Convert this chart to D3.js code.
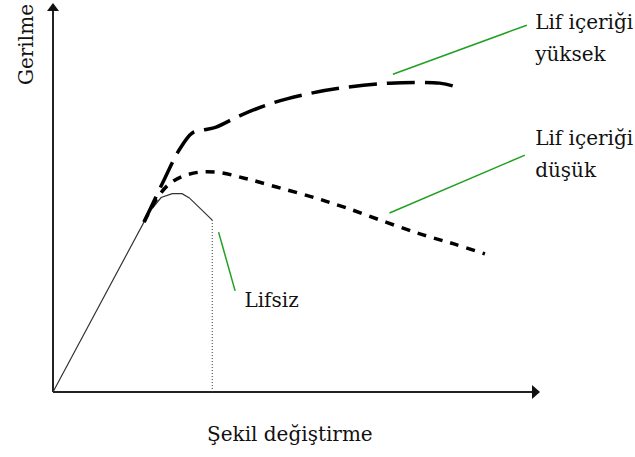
<!DOCTYPE html>
<html>
<head>
<meta charset="utf-8">
<script src="https://cdn.jsdelivr.net/npm/d3@7"></script>
<style>
  body { margin: 0; background: #fff; }
  text { font-family: "DejaVu Serif", serif; font-size: 20px; fill: #111; }
</style>
</head>
<body>
<div class="canvas"></div>
<script>
// boyutlar
const width = 635;
const height = 457;

// eğriler (keyfi birimler: şekil değiştirme 0-100, gerilme 0-100)
const lifsiz = [[0, 0], [19.8, 46.3], [22.2, 50.0], [24.5, 51.0], [26.5, 51.0], [28.0, 49.9], [32.7, 44.2]];
const kirilma = [[32.7, 44.2], [32.7, 0]];
const yuksek = [[18.7, 43.7], [22.8, 54.5], [25.9, 62.2], [28.6, 66.6], [31.1, 67.4], [33.5, 68.1],
                [38.3, 71.0], [45.1, 74.3], [53.3, 76.9], [58.8, 78.1], [69.1, 79.4], [79.4, 79.4], [82.1, 78.7]];
const dusuk = [[18.7, 43.7], [21.4, 49.9], [23.9, 53.5], [26.5, 55.4], [30.0, 56.5], [34.2, 56.4],
               [39.5, 54.9], [45.9, 52.7], [53.3, 50.1], [60.3, 47.3], [68.5, 43.6], [76.0, 40.4],
               [82.5, 38.0], [88.7, 35.5]];

// etiket çizgileri (yeşil)
const leaders = [
  [[69.8, 81.7], [97.3, 94.3]],
  [[69.1, 46.0], [96.9, 60.9]],
  [[34.0, 41.1], [37.4, 26.0]]
];

// etiketler
const labels = [
  { text: "Lif içeriği", x: 99.0, y: 93.3 },
  { text: "yüksek", x: 99.0, y: 85.1 },
  { text: "Lif içeriği", x: 99.0, y: 63.5 },
  { text: "düşük", x: 99.0, y: 55.3 },
  { text: "Lifsiz", x: 39.3, y: 21.8 }
];
const xLabel = "Şekil değiştirme";
const yLabel = "Gerilme";

const x = d3.scaleLinear().domain([0, 100]).range([53, 540]);
const y = d3.scaleLinear().domain([0, 100]).range([392, 3]);

const svg = d3.select(".canvas").append("svg")
  .attr("width", width)
  .attr("height", height);

// eksenler
svg.append("line")
  .attr("x1", x(0)).attr("y1", y(0))
  .attr("x2", x(0)).attr("y2", y(100) + 6)
  .attr("stroke", "#222").attr("stroke-width", 2);
svg.append("line")
  .attr("x1", x(0)).attr("y1", y(0))
  .attr("x2", x(100) - 6).attr("y2", y(0))
  .attr("stroke", "#222").attr("stroke-width", 2);

// ok uçları
svg.append("path")
  .attr("d", `M${x(0)},${y(100)} L${x(0) - 6},${y(100) + 8} L${x(0) + 6},${y(100) + 8} Z`)
  .attr("fill", "#111");
svg.append("path")
  .attr("d", `M${x(100)},${y(0)} L${x(100) - 8},${y(0) - 7} L${x(100) - 8},${y(0) + 7} Z`)
  .attr("fill", "#111");

const line = d3.line().x(d => x(d[0])).y(d => y(d[1]));
const smooth = d3.line().x(d => x(d[0])).y(d => y(d[1])).curve(d3.curveCatmullRom.alpha(0.5));

svg.append("path")
  .attr("d", line(lifsiz))
  .attr("fill", "none")
  .attr("stroke", "#333")
  .attr("stroke-width", 1.2);

svg.append("path")
  .attr("d", line(kirilma))
  .attr("fill", "none")
  .attr("stroke", "#333")
  .attr("stroke-width", 1)
  .attr("stroke-dasharray", "1,2");

svg.append("path")
  .attr("d", smooth(yuksek))
  .attr("fill", "none")
  .attr("stroke", "#000")
  .attr("stroke-width", 3.5)
  .attr("stroke-dasharray", "28,10");

svg.append("path")
  .attr("d", smooth(dusuk))
  .attr("fill", "none")
  .attr("stroke", "#000")
  .attr("stroke-width", 3.5)
  .attr("stroke-dasharray", "9,8");

svg.selectAll(".leader")
  .data(leaders)
  .join("path")
  .attr("class", "leader")
  .attr("d", d => line(d))
  .attr("fill", "none")
  .attr("stroke", "#22a022")
  .attr("stroke-width", 1.5);

svg.selectAll(".lbl")
  .data(labels)
  .join("text")
  .attr("class", "lbl")
  .attr("x", d => x(d.x))
  .attr("y", d => y(d.y))
  .text(d => d.text);

svg.append("text")
  .attr("x", 207)
  .attr("y", 441)
  .text(xLabel);

svg.append("text")
  .attr("transform", "translate(33,85) rotate(-90)")
  .text(yLabel);
</script>
</body>
</html>
